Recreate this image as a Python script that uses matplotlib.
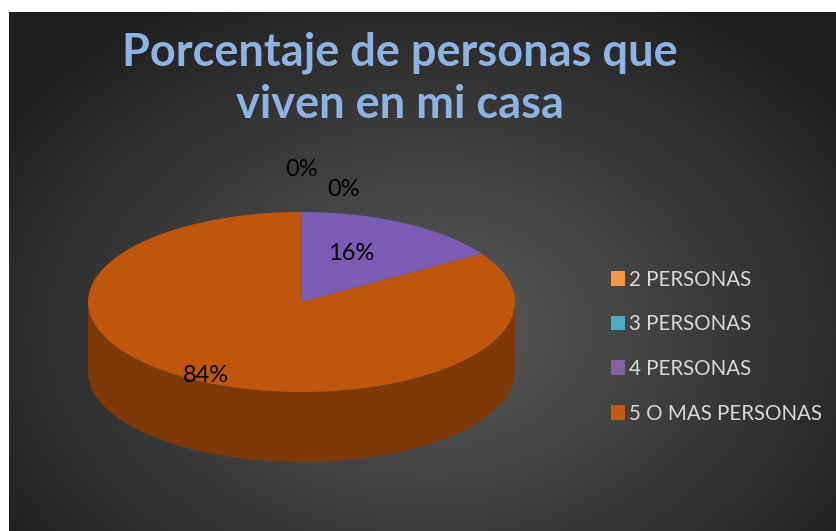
import matplotlib.pyplot as plt
import numpy as np
from matplotlib.patches import Polygon, Patch

categories = ["2 PERSONAS", "3 PERSONAS", "4 PERSONAS", "5 O MAS PERSONAS"]
values = [0, 0, 16, 84]
labels = ["0%", "0%", "16%", "84%"]
colors = ["#F79646", "#4BACC6", "#7B5CB4", "#C0560C"]
legend_colors = ["#F79646", "#4BACC6", "#8064A2", "#C55A11"]

W, H = 836, 531
fig = plt.figure(figsize=(W / 100, H / 100), dpi=100)
fig.patch.set_facecolor("white")
ax = fig.add_axes([0, 0, 1, 1])
ax.set_xlim(0, W)
ax.set_ylim(H, 0)
ax.axis("off")

# background: dark panel with soft radial highlight
x0, y0 = 9, 12
gx, gy = np.meshgrid(np.linspace(x0, W, 400), np.linspace(y0, H, 260))
d = np.sqrt(((gx - 430) / 520) ** 2 + ((gy - 330) / 380) ** 2)
shade = np.clip(0.36 - 0.24 * d, 0.12, 0.4)
img = np.dstack([shade, shade, shade])
ax.imshow(img, extent=(x0, W, H, y0), aspect="auto", zorder=0, interpolation="bilinear")

# 3D pie geometry (pixel units)
cx, cy, a, b, depth = 301.5, 302, 213.5, 90, 70

def edge(t):
    t = np.radians(t)
    return cx + a * np.sin(t), cy - b * np.cos(t)

def darker(c, f):
    r, g, bb = [int(c[i:i + 2], 16) / 255 for i in (1, 3, 5)]
    return (r * f, g * f, bb * f)

total = sum(values)
starts = np.cumsum([0] + values[:-1]) / total * 360
spans = np.array(values) / total * 360

# side walls (front half: 90..270 degrees clockwise from top)
for s, w, c in zip(starts, spans, colors):
    if w == 0:
        continue
    lo, hi = max(s, 90), min(s + w, 270)
    if hi <= lo:
        continue
    t = np.linspace(lo, hi, 120)
    xs, ys = edge(t)
    pts = np.concatenate([np.column_stack([xs, ys]), np.column_stack([xs[::-1], ys[::-1] + depth])])
    ax.add_patch(Polygon(pts, closed=True, facecolor=darker(c, 0.66), edgecolor="none", zorder=2))

# top faces
for s, w, c in zip(starts, spans, colors):
    if w == 0:
        continue
    t = np.linspace(s, s + w, 300)
    xs, ys = edge(t)
    pts = np.vstack([[cx, cy], np.column_stack([xs, ys])])
    ax.add_patch(Polygon(pts, closed=True, facecolor=c, edgecolor="none", zorder=3))

# data labels
label_r = [1.47, 1.25, 0.62, 0.93]
label_dx = [0, 42, -14, 0]
for s, w, lab, r, dx in zip(starts, spans, labels, label_r, label_dx):
    m = np.radians(s + w / 2)
    lx = cx + a * r * np.sin(m) + dx
    ly = cy - b * r * np.cos(m)
    ax.text(lx, ly, lab, fontsize=17, family="Lato", color="black",
            ha="center", va="center", zorder=5)

ax.text(400, 79, "Porcentaje de personas que\nviven en mi casa", fontsize=32.5,
        family="Lato", fontweight="bold", color="#8DB3E2", ha="center",
        va="center", linespacing=1.3, zorder=5)

handles = [Patch(facecolor=c, edgecolor="none") for c in legend_colors]
leg = fig.legend(handles, categories, loc="upper left", bbox_to_anchor=(592 / W, 1 - 251 / H),
                 frameon=False, handlelength=0.7, handleheight=0.7,
                 handletextpad=0.2, labelspacing=1.2, labelcolor="#D9D9D9",
                 prop={"family": "Lato", "size": 14.8})

fig.savefig("out.png", dpi=100)
